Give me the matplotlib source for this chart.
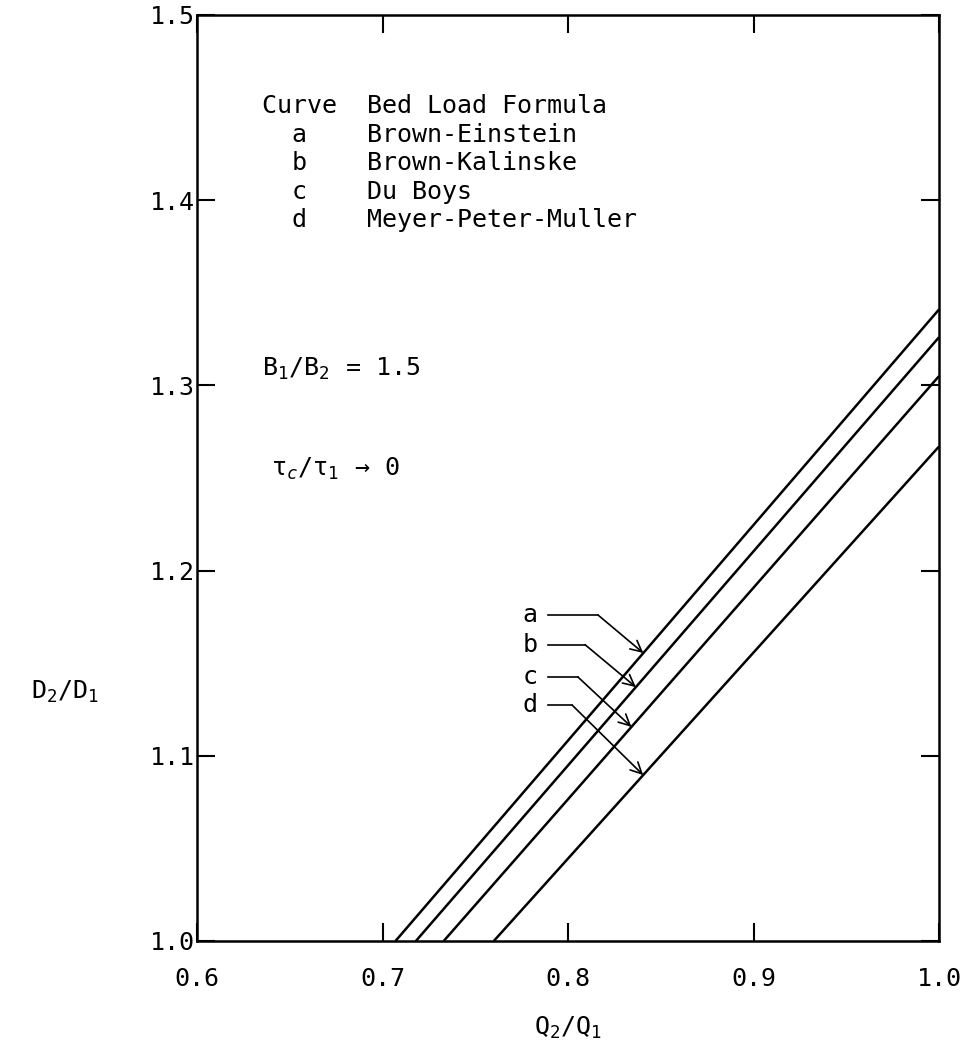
import matplotlib
matplotlib.use("Agg")
import matplotlib.pyplot as plt
import numpy as np

plt.rcParams['font.family'] = ['DejaVu Sans Mono', 'DejaVu Sans']
plt.rcParams['mathtext.fontset'] = 'custom'
plt.rcParams['mathtext.rm'] = 'DejaVu Sans Mono'
plt.rcParams['mathtext.it'] = 'DejaVu Sans Mono:italic'

# curve data: Q2/Q1 where D2/D1 = 1.0, and D2/D1 at Q2/Q1 = 1.0
curve_names = ['a', 'b', 'c', 'd']
formulas = ['Brown-Einstein', 'Brown-Kalinske', 'Du Boys', 'Meyer-Peter-Muller']
q_at_start = [0.707, 0.718, 0.733, 0.760]
d_at_end = [1.341, 1.326, 1.305, 1.267]

x_ticks = [0.6, 0.7, 0.8, 0.9, 1.0]
y_ticks = [1.0, 1.1, 1.2, 1.3, 1.4, 1.5]

fig = plt.figure(figsize=(9.67, 10.53), dpi=100)
ax = fig.add_axes([197 / 967, 1 - 941 / 1053, 742 / 967, 926 / 1053])

for q0, d1 in zip(q_at_start, d_at_end):
    ax.plot([q0, 1.0], [1.0, d1], color='black', lw=1.8, solid_capstyle='butt')

# labels with leader arrows
label_d = [1.176, 1.160, 1.1425, 1.1274]
elbow_q = [0.8162, 0.8092, 0.8054, 0.8022]
tip_d = [1.1555, 1.1371, 1.1156, 1.0896]
for name, q0, d1, ld, eq, td in zip(curve_names, q_at_start, d_at_end, label_d, elbow_q, tip_d):
    tq = np.interp(td, [1.0, d1], [q0, 1.0])
    ax.text(0.7795, ld, name, ha='center', va='center', fontsize=18)
    ax.plot([0.789, eq], [ld, ld], color='black', lw=1.2)
    ax.annotate('', xy=(tq, td), xytext=(eq, ld),
                arrowprops=dict(arrowstyle='->', lw=1.2, color='black',
                                shrinkA=0, shrinkB=0, mutation_scale=20))

legend_lines = ['Curve  Bed Load Formula']
for name, f in zip(curve_names, formulas):
    legend_lines.append('  ' + name + '    ' + f)
ax.text(0.635, 1.42, '\n'.join(legend_lines), ha='left', va='center',
        fontsize=18, linespacing=1.24)

ax.text(0.635, 1.309, 'B$_1$/B$_2$ = 1.5', ha='left', va='center', fontsize=18)
ax.text(0.640, 1.255, 'τ$_c$/τ$_1$ → 0', ha='left', va='center', fontsize=18)

ax.set_xlim(0.6, 1.0)
ax.set_ylim(1.0, 1.5)
ax.set_xticks(x_ticks)
ax.set_yticks(y_ticks)
ax.set_xticklabels(['%.1f' % v for v in x_ticks])
ax.set_yticklabels(['%.1f' % v for v in y_ticks])
ax.tick_params(direction='in', length=13, width=1.5, top=True, right=True,
               labelsize=18)
ax.tick_params(axis='x', pad=19)
ax.tick_params(axis='y', pad=1.5)
for s in ax.spines.values():
    s.set_linewidth(1.8)

fig.text(65 / 967, 1 - 692 / 1053, 'D$_2$/D$_1$', ha='center', va='center', fontsize=18)
fig.text(568 / 967, 1 - 1028 / 1053, 'Q$_2$/Q$_1$', ha='center', va='center', fontsize=18)

fig.savefig('out.png', dpi=100)
